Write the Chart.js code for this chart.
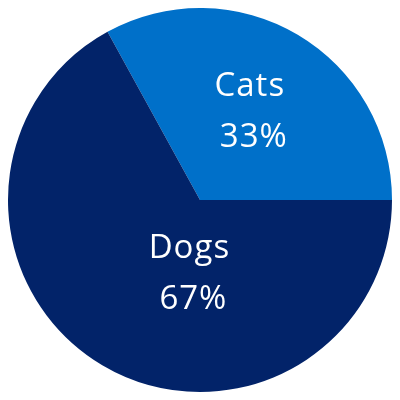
<!DOCTYPE html>
<html lang="en">
<head>
    <meta charset="UTF-8">
    <title>Cats vs Dogs</title>
    <script src="https://cdn.jsdelivr.net/npm/chart.js"></script>
    <style>
        html, body { margin: 0; padding: 0; background: #ffffff; }
        .chart-box { width: 400px; height: 400px; }
    </style>
</head>
<body>
    <div class="chart-box"><canvas id="petChart"></canvas></div>

    <script>
        // chart data
        const labels = ['Cats', 'Dogs'];
        const shares = [33, 67];
        const colors = ['#0070c9', '#022369'];

        // Cats slice ends exactly at 3 o'clock
        const total = shares.reduce((a, b) => a + b, 0);
        const startRotation = 90 - 360 * shares[0] / total;

        // draws "name / nn%" inside each slice
        const sliceLabels = {
            id: 'sliceLabels',
            afterDatasetsDraw(chart, args, opts) {
                const ctx = chart.ctx;
                const arcs = chart.getDatasetMeta(0).data;
                ctx.save();
                ctx.fillStyle = opts.color;
                ctx.font = opts.weight + ' ' + opts.size + 'px ' + opts.family;
                if ('letterSpacing' in ctx) ctx.letterSpacing = opts.spacing;
                ctx.textAlign = 'center';
                ctx.textBaseline = 'middle';
                arcs.forEach((arc, i) => {
                    const p = arc.getProps(['x', 'y', 'startAngle', 'endAngle', 'outerRadius'], true);
                    const place = opts.place[i];
                    const a = (p.startAngle + p.endAngle) / 2 + place.turn * Math.PI / 180;
                    const cx = p.x + Math.cos(a) * p.outerRadius * place.r;
                    const cy = p.y + Math.sin(a) * p.outerRadius * place.r;
                    ctx.fillText(chart.data.labels[i], cx - 2, cy - opts.gap / 2);
                    ctx.fillText(chart.data.datasets[0].data[i] + '%', cx + 2, cy + opts.gap / 2);
                });
                ctx.restore();
            }
        };

        new Chart(document.getElementById('petChart'), {
            type: 'pie',
            data: {
                labels: labels,
                datasets: [{
                    data: shares,
                    backgroundColor: colors,
                    borderWidth: 0
                }]
            },
            options: {
                responsive: true,
                maintainAspectRatio: false,
                animation: false,
                rotation: startRotation,
                layout: { padding: 8 },
                plugins: {
                    legend: { display: false },
                    tooltip: { enabled: false },
                    sliceLabels: {
                        color: '#ffffff',
                        size: 33,
                        weight: 400,
                        spacing: '1px',
                        family: '"Open Sans", Lato, sans-serif',
                        gap: 51,
                        place: [{ r: 0.53, turn: 0 }, { r: 0.39, turn: -24 }]
                    }
                }
            },
            plugins: [sliceLabels]
        });
    </script>
</body>
</html>
